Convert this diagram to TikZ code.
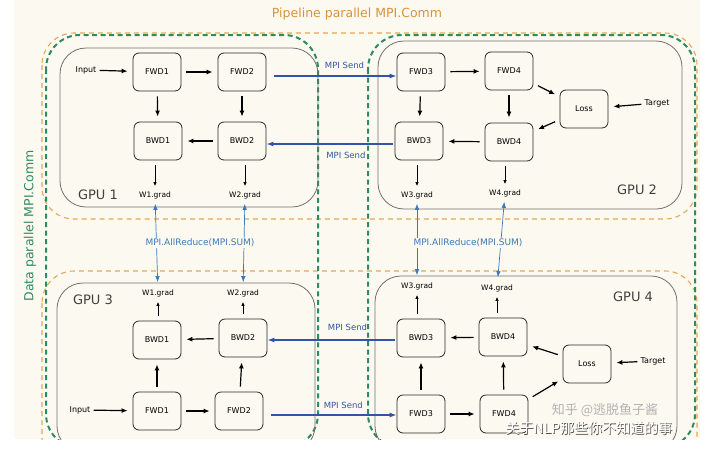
\documentclass[tikz,border=0pt]{standalone}
\usepackage{fontspec}
\setmainfont{DejaVu Sans}
\newfontfamily\cjk{Noto Sans CJK SC}
\usetikzlibrary{arrows.meta}

\definecolor{bgcream}{HTML}{FCFAF0}
\definecolor{pipeorange}{HTML}{E3A857}
\definecolor{titleorange}{HTML}{D9923C}
\definecolor{datagreen}{HTML}{2E8A62}
\definecolor{sendblue}{HTML}{3452A8}
\definecolor{reduceblue}{HTML}{3B78B8}
\definecolor{gpugray}{HTML}{707070}

\tikzset{
  stage/.style={draw=black!85, rounded corners=6pt, minimum width=48pt,
    minimum height=38pt, line width=0.8pt, fill=bgcream,
    font=\fontsize{8}{9}\selectfont},
  gradlbl/.style={inner sep=1pt, font=\fontsize{7.5}{8}\selectfont},
  sidelbl/.style={inner sep=1pt, font=\fontsize{8}{9}\selectfont},
  gpulbl/.style={inner sep=1pt, text=black!75, font=\fontsize{13}{14}\selectfont},
  sendlbl/.style={inner sep=1pt, text=sendblue, font=\fontsize{8.5}{9}\selectfont},
  reducelbl/.style={inner sep=1pt, fill=bgcream, text=reduceblue,
    font=\fontsize{9}{10}\selectfont},
  gpubox/.style={draw=gpugray, line width=0.8pt, rounded corners=26pt},
  pipegroup/.style={draw=pipeorange, line width=1.1pt,
    dash pattern=on 5pt off 4pt, rounded corners=32pt},
  datagroup/.style={draw=datagreen, line width=2pt,
    dash pattern=on 5pt off 3.5pt, rounded corners=34pt},
  flow/.style={-{Latex[length=6pt,width=5pt]}, line width=1.2pt,
    shorten >=5pt, shorten <=5pt},
  gradflow/.style={-{Latex[length=4pt,width=3.5pt]}, line width=0.8pt,
    shorten >=4pt, shorten <=5pt},
  send/.style={-{Latex[length=7pt,width=5pt]}, draw=sendblue, line width=1.2pt},
  reduce/.style={{Latex[length=6pt,width=4.5pt]}-{Latex[length=6pt,width=4.5pt]},
    draw=reduceblue, line width=0.7pt, shorten >=4pt, shorten <=6pt}
}

\begin{document}
\begin{tikzpicture}[x=1pt, y=-1pt]
    \useasboundingbox (0,0) rectangle (711,458);
    \fill[bgcream] (14,0) rectangle (700,439);

    \begin{scope}
    \clip (14,0) rectangle (700,439);

    % groups: pipeline (orange) and data (green)
    \draw[pipegroup] (42,33) rectangle (697,219);
    \draw[pipegroup] (42,271) rectangle (697,470);
    \draw[datagroup] (46,35) rectangle (318,448);
    \draw[datagroup] (368,35) rectangle (695,448);

    % GPU boxes
    \draw[gpubox] (60,48) rectangle (318,207);
    \draw[gpubox] (378,41) rectangle (682,209);
    \draw[gpubox] (57,283) rectangle (315,452);
    \draw[gpubox] (375,276) rectangle (677,452);

    \node[text=titleorange, font=\fontsize{12.5}{13}\selectfont] (pipetitle) at (357,14) {Pipeline parallel MPI.Comm};
    \node[text=datagreen, rotate=90, font=\fontsize{12.5}{13}\selectfont] (datatitle) at (30,226) {Data parallel MPI.Comm};

    % GPU 1
    \node[gpulbl] (gpu1) at (98,195) {GPU 1};
    \node[sidelbl] (in1) at (86,70) {Input};
    \node[stage] (f1a) at (157,72) {FWD1};
    \node[stage] (f2a) at (242,72) {FWD2};
    \node[stage] (b1a) at (158,141) {BWD1};
    \node[stage] (b2a) at (242,141) {BWD2};
    \node[gradlbl] (g1a) at (155,195) {W1.grad};
    \node[gradlbl] (g2a) at (245,195) {W2.grad};
    \draw[flow, shorten <=2pt] (in1) -- (f1a);
    \draw[flow] (f1a) -- (f2a);
    \draw[flow] (f1a) -- (b1a);
    \draw[flow] (f2a) -- (b2a);
    \draw[flow] (b2a) -- (b1a);
    \draw[gradflow] (b1a.south -| g1a) -- (g1a);
    \draw[gradflow] (b2a.south -| g2a) -- (g2a);

    % GPU 2
    \node[gpulbl] (gpu2) at (637,190) {GPU 2};
    \node[stage] (f3b) at (421,72) {FWD3};
    \node[stage] (f4b) at (509,71) {FWD4};
    \node[stage] (lossb) at (584,109) {Loss};
    \node[stage] (b3b) at (419,141) {BWD3};
    \node[stage] (b4b) at (509,142) {BWD4};
    \node[sidelbl] (tgtb) at (657,103) {Target};
    \node[gradlbl] (g3b) at (417,195) {W3.grad};
    \node[gradlbl] (g4b) at (505,193) {W4.grad};
    \draw[flow] (f3b) -- (f4b);
    \draw[flow] (f3b) -- (b3b);
    \draw[flow] (f4b) -- (b4b);
    \draw[flow] (f4b) -- (lossb);
    \draw[flow] (lossb) -- (b4b);
    \draw[flow, shorten <=2pt] (tgtb) -- (lossb);
    \draw[flow] (b4b) -- (b3b);
    \draw[gradflow] (b3b.south -| g3b) -- (g3b);
    \draw[gradflow] (b4b.south -| g4b) -- (g4b);

    % GPU 3
    \node[gpulbl] (gpu3) at (93,300) {GPU 3};
    \node[sidelbl] (in3) at (80,410) {Input};
    \node[stage] (f1c) at (157,411) {FWD1};
    \node[stage] (f2c) at (239,411) {FWD2};
    \node[stage] (b1c) at (157,340) {BWD1};
    \node[stage] (b2c) at (243,338) {BWD2};
    \node[gradlbl] (g1c) at (158,293) {W1.grad};
    \node[gradlbl] (g2c) at (243,293) {W2.grad};
    \draw[flow, shorten <=2pt] (in3) -- (f1c);
    \draw[flow] (f1c) -- (f2c);
    \draw[flow] (f1c) -- (b1c);
    \draw[flow] (f2c) -- (b2c);
    \draw[flow] (b2c) -- (b1c);
    \draw[gradflow] (b1c.north -| g1c) -- (g1c);
    \draw[gradflow] (b2c.north -| g2c) -- (g2c);

    % GPU 4
    \node[gpulbl] (gpu4) at (633,297) {GPU 4};
    \node[stage] (f3d) at (421,414) {FWD3};
    \node[stage] (f4d) at (504,414) {FWD4};
    \node[stage] (lossd) at (587,364) {Loss};
    \node[stage] (b3d) at (421,338) {BWD3};
    \node[stage] (b4d) at (503,337) {BWD4};
    \node[sidelbl] (tgtd) at (653,361) {Target};
    \node[gradlbl] (g3d) at (417,286) {W3.grad};
    \node[gradlbl] (g4d) at (497,288) {W4.grad};
    \draw[flow] (f3d) -- (f4d);
    \draw[flow] (f3d) -- (b3d);
    \draw[flow] (f4d) -- (b4d);
    \draw[flow] (f4d) -- (lossd);
    \draw[flow] (lossd) -- (b4d);
    \draw[flow, shorten <=2pt] (tgtd) -- (lossd);
    \draw[flow] (b4d) -- (b3d);
    \draw[gradflow] (b3d.north -| g3d) -- (g3d);
    \draw[gradflow] (b4d.north -| g4d) -- (g4d);

    % pipeline sends
    \draw[send, shorten <=8pt] ([yshift=-4pt]f2a.east) -- ([yshift=-4pt]f2a.east -| f3b.west)
        node[sendlbl, pos=0.6, above=6pt] (s1) {MPI Send};
    \draw[send, shorten <=2pt] ([yshift=-3pt]b3b.west) -- ([yshift=-3pt]b3b.west -| b2a.east)
        node[sendlbl, pos=0.38, below=6pt] (s2) {MPI Send};
    \draw[send, shorten <=2pt] ([yshift=-2pt]b3d.west) -- ([yshift=-2pt]b3d.west -| b2c.east)
        node[sendlbl, pos=0.38, above=8pt] (s3) {MPI Send};
    \draw[send, shorten <=8pt] ([yshift=-4pt]f2c.east) -- ([yshift=-4pt]f2c.east -| f3d.west)
        node[sendlbl, pos=0.6, above=5pt] (s4) {MPI Send};

    % data parallel allreduce
    \draw[reduce] (g1c) -- (g1a);
    \draw[reduce] (g2c) -- (g2a);
    \draw[reduce] (g3d) -- (g3b);
    \draw[reduce] (g4d) -- (g4b);
    \node[reducelbl] (ar1) at (200,243) {MPI.AllReduce(MPI.SUM)};
    \node[reducelbl] (ar2) at (468,243) {MPI.AllReduce(MPI.SUM)};

    % watermark
    \node[text=black!30, font=\cjk\fontsize{13}{14}\selectfont] (wm1) at (605,410) {知乎 @逃脱鱼子酱};
    \node[text=black!70, font=\cjk\fontsize{14}{15}\selectfont] (wm2s) at (589.7,428.7) {关于NLP那些你不知道的事};
    \node[text=white, font=\cjk\fontsize{14}{15}\selectfont] (wm2) at (589,428) {关于NLP那些你不知道的事};
    \end{scope}

\end{tikzpicture}
\end{document}
